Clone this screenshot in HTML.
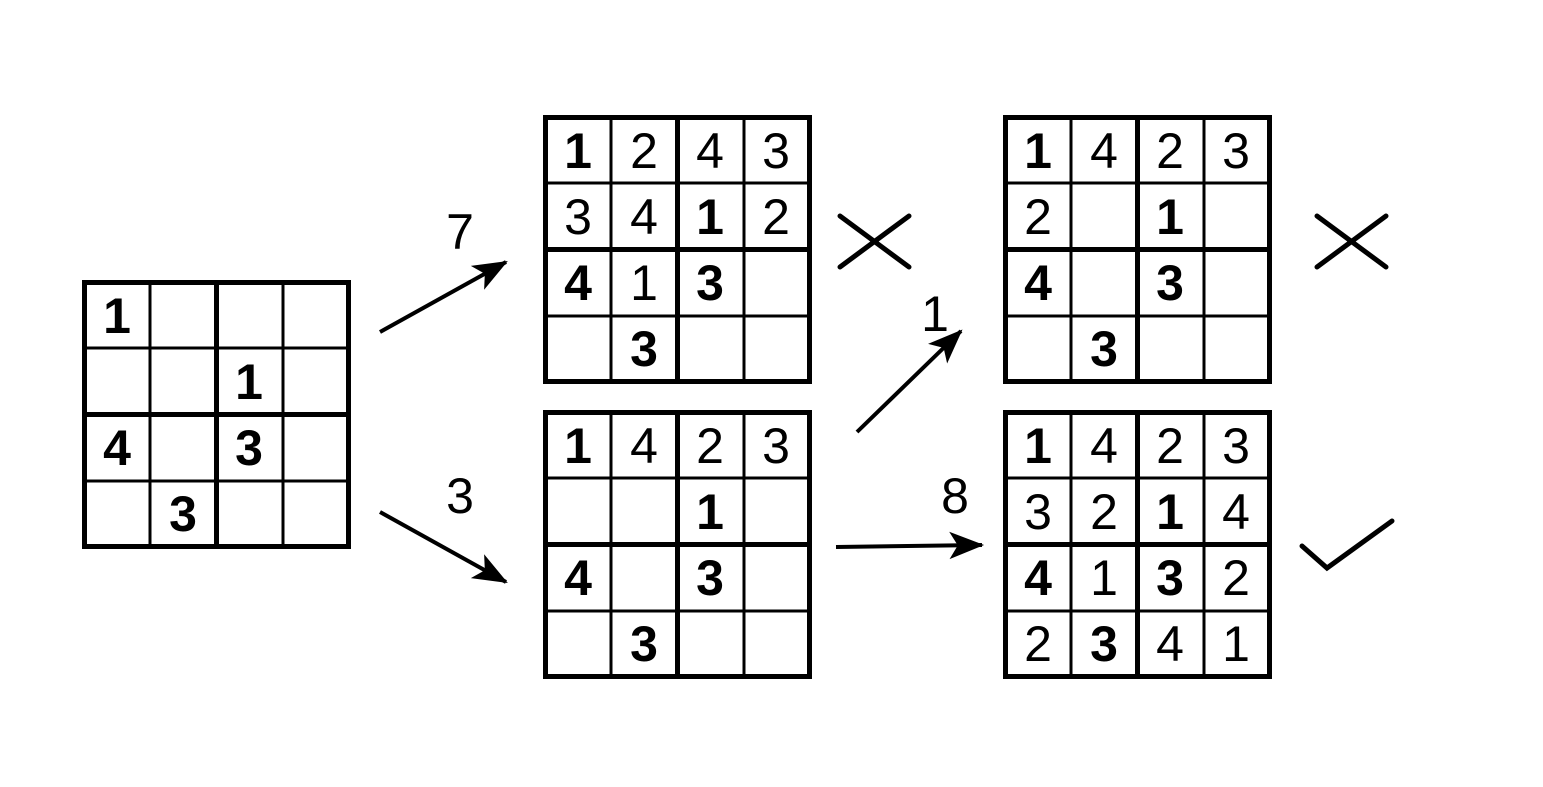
<!DOCTYPE html>
<html><head><meta charset="utf-8"><style>
html,body{margin:0;padding:0;background:#fff}
svg{display:block}
text{font-family:"Liberation Sans",sans-serif;font-size:50px;text-anchor:middle;fill:#000}
.b{font-weight:bold}
</style></head><body>
<svg width="1543" height="787" viewBox="0 0 1543 787" xmlns="http://www.w3.org/2000/svg">
<defs>
<g id="grid" stroke="#000" fill="none">
<rect x="2.5" y="2.5" width="264" height="264" stroke-width="5"/>
<line x1="68" y1="2" x2="68" y2="267" stroke-width="3"/>
<line x1="201" y1="2" x2="201" y2="267" stroke-width="3"/>
<line x1="2" y1="68" x2="267" y2="68" stroke-width="3"/>
<line x1="2" y1="201" x2="267" y2="201" stroke-width="3"/>
<line x1="134.5" y1="2" x2="134.5" y2="267" stroke-width="5"/>
<line x1="2" y1="134.5" x2="267" y2="134.5" stroke-width="5"/>
</g>
<marker id="ah" markerUnits="userSpaceOnUse" markerWidth="40" markerHeight="40" viewBox="-34 -16 38 32" refX="0" refY="0" orient="auto">
<path d="M2,0 L-31,-13 L-23,0 L-31,13 Z" fill="#000"/>
</marker>
</defs>

<g transform="translate(82,280)">
<use href="#grid"/>
<text class="b" x="35" y="53">1</text>
<text class="b" x="167" y="119">1</text>
<text class="b" x="35" y="185">4</text><text class="b" x="167" y="185">3</text>
<text class="b" x="101" y="251">3</text>
</g>

<g transform="translate(543,115)">
<use href="#grid"/>
<text class="b" x="35" y="53">1</text><text x="101" y="53">2</text><text x="167" y="53">4</text><text x="233" y="53">3</text>
<text x="35" y="119">3</text><text x="101" y="119">4</text><text class="b" x="167" y="119">1</text><text x="233" y="119">2</text>
<text class="b" x="35" y="185">4</text><text x="101" y="185">1</text><text class="b" x="167" y="185">3</text>
<text class="b" x="101" y="251">3</text>
</g>

<g transform="translate(543,410)">
<use href="#grid"/>
<text class="b" x="35" y="53">1</text><text x="101" y="53">4</text><text x="167" y="53">2</text><text x="233" y="53">3</text>
<text class="b" x="167" y="119">1</text>
<text class="b" x="35" y="185">4</text><text class="b" x="167" y="185">3</text>
<text class="b" x="101" y="251">3</text>
</g>

<g transform="translate(1003,115)">
<use href="#grid"/>
<text class="b" x="35" y="53">1</text><text x="101" y="53">4</text><text x="167" y="53">2</text><text x="233" y="53">3</text>
<text x="35" y="119">2</text><text class="b" x="167" y="119">1</text>
<text class="b" x="35" y="185">4</text><text class="b" x="167" y="185">3</text>
<text class="b" x="101" y="251">3</text>
</g>

<g transform="translate(1003,410)">
<use href="#grid"/>
<text class="b" x="35" y="53">1</text><text x="101" y="53">4</text><text x="167" y="53">2</text><text x="233" y="53">3</text>
<text x="35" y="119">3</text><text x="101" y="119">2</text><text class="b" x="167" y="119">1</text><text x="233" y="119">4</text>
<text class="b" x="35" y="185">4</text><text x="101" y="185">1</text><text class="b" x="167" y="185">3</text><text x="233" y="185">2</text>
<text x="35" y="251">2</text><text class="b" x="101" y="251">3</text><text x="167" y="251">4</text><text x="233" y="251">1</text>
</g>

<g stroke="#000" stroke-width="4" fill="none">
<line x1="380" y1="332" x2="506" y2="262" marker-end="url(#ah)"/>
<line x1="380" y1="512" x2="506" y2="582" marker-end="url(#ah)"/>
<line x1="857" y1="432" x2="961" y2="331" marker-end="url(#ah)"/>
<line x1="836" y1="547" x2="982" y2="545" marker-end="url(#ah)"/>
</g>
<text x="460" y="249">7</text>
<text x="460" y="513">3</text>
<text x="935" y="331">1</text>
<text x="955" y="513">8</text>

<g stroke="#000" stroke-width="5" fill="none" stroke-linecap="round">
<line x1="840" y1="267" x2="909" y2="216"/>
<line x1="840" y1="216" x2="909" y2="267"/>
<line x1="1317" y1="267" x2="1386" y2="216"/>
<line x1="1317" y1="216" x2="1386" y2="267"/>
<polyline points="1302,546 1327,568 1392,521"/>
</g>
</svg>
</body></html>
